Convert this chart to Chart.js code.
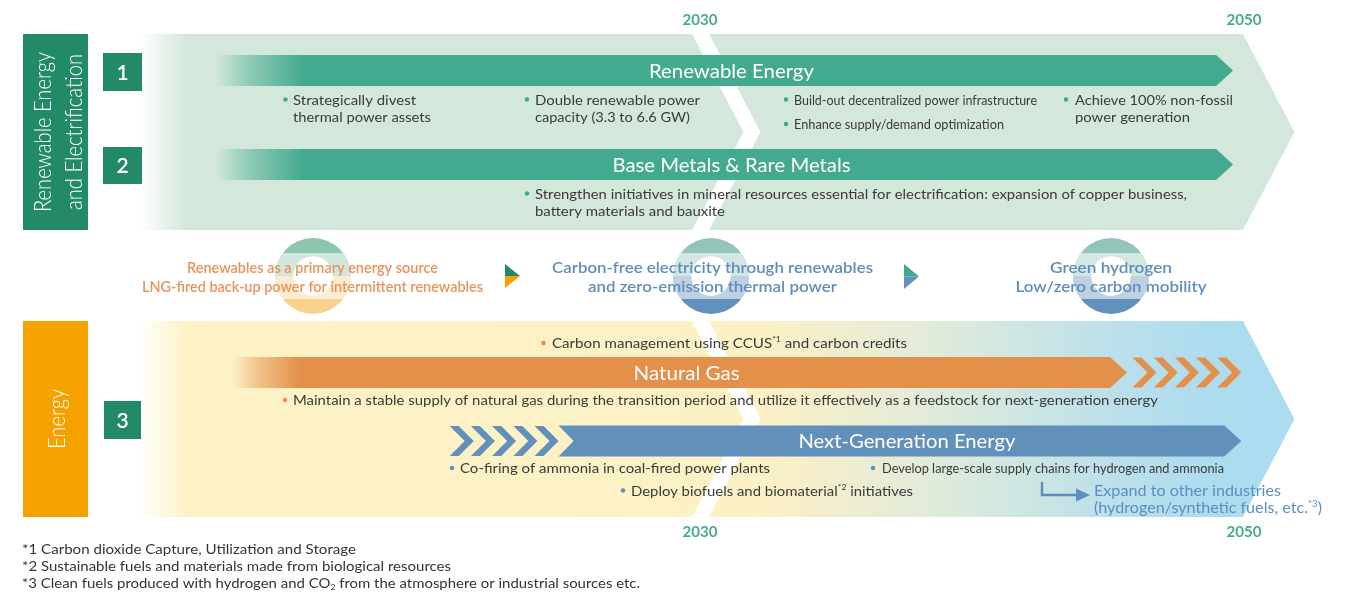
<!DOCTYPE html>
<html>
<head>
<meta charset="utf-8">
<script src="https://cdn.jsdelivr.net/npm/chart.js@4.4.1/dist/chart.umd.min.js"></script>
<style>
  html, body { margin: 0; background: #fff; }
  #wrap { position: relative; width: 1347px; height: 592px; overflow: hidden; }
  #wrap canvas { position: absolute; left: 0; }
</style>
</head>
<body>
<div id="wrap">
  <canvas id="roadmapTop" width="1347" height="320" style="top:0"></canvas>
  <canvas id="roadmapBottom" width="1347" height="272" style="top:320px"></canvas>
</div>
<script>
// ── Données ────────────────────────────────────────────────────────────────
const yearMin = 2004.265;
const yearMax = 2053.787;
const milestones = [2030, 2050];

const topRows  = ['Renewable Energy', 'Base Metals & Rare Metals'];
const topSpans = [[2012.2, 2049.6], [2012.2, 2049.6]];

const bottomRows     = ['Natural Gas', 'Next-Generation Energy'];
const bottomSpans    = [[2012.8, 2045.7], [2024.8, 2049.9]];
const bottomChevrons = [[2045.9, 2049.9], [2020.8, 2024.8]];

// ── Couleurs ───────────────────────────────────────────────────────────────
const TEAL       = '#43aa8f';
const DARK_GREEN = '#238a68';
const AMBER      = '#f5a200';
const GAS        = '#e3904a';
const BLUE       = '#6190bb';
const TEXT       = '#3a3a3a';
const YEAR       = '#48a98c';

const labelWidth = {
  'Renewable Energy': 165,
  'Base Metals & Rare Metals': 238,
  'Natural Gas': 106,
  'Next-Generation Energy': 217,
};

// ── Helpers de dessin ──────────────────────────────────────────────────────
function rgba(hex, a) {
  const n = parseInt(hex.slice(1), 16);
  return `rgba(${n >> 16},${(n >> 8) & 255},${n & 255},${a})`;
}

// texte "riche" (exposants / indices), étiré à une largeur cible
function richText(ctx, parts, x, y, width, o) {
  const size = o.size || 14, fam = o.family || 'Lato', wt = o.weight || 400;
  const main  = `${wt} ${size}px ${fam}`;
  const small = `${wt} ${Math.round(size * 0.6)}px ${fam}`;
  const segs = (typeof parts === 'string' ? [parts] : parts)
    .map(p => typeof p === 'string' ? { t: p } : Object.assign({}, p));
  let natural = 0;
  segs.forEach(s => {
    ctx.font = (s.sup || s.sub) ? small : main;
    s.w = ctx.measureText(s.t).width;
    natural += s.w;
  });
  const sx = width ? width / natural : 1;
  const total = natural * sx;
  const x0 = o.align === 'center' ? x - total / 2 : o.align === 'right' ? x - total : x;
  ctx.save();
  ctx.fillStyle = o.color || TEXT;
  ctx.textAlign = 'left';
  ctx.textBaseline = 'alphabetic';
  ctx.translate(x0, y);
  ctx.scale(sx, 1);
  let cx = 0;
  segs.forEach(s => {
    ctx.font = (s.sup || s.sub) ? small : main;
    const dy = s.sup ? -size * 0.4 : s.sub ? size * 0.2 : 0;
    ctx.fillText(s.t, cx, dy);
    cx += s.w;
  });
  ctx.restore();
}

function vText(ctx, str, baseX, cy, width, o) {
  ctx.save();
  ctx.translate(baseX, cy);
  ctx.rotate(-Math.PI / 2);
  richText(ctx, str, 0, 0, width, Object.assign({ align: 'center' }, o));
  ctx.restore();
}

function drawNotes(ctx, notes, dotColor) {
  notes.forEach(n => {
    const size = n.size || 14;
    ctx.fillStyle = n.dot || dotColor;
    ctx.beginPath();
    ctx.arc(n.bx, n.y - 5, 2.2, 0, Math.PI * 2);
    ctx.fill();
    n.lines.forEach((line, k) => {
      richText(ctx, line, n.tx, n.y + k * 17.5, n.w[k], { size, color: TEXT });
    });
  });
}

function drawArrow(ctx, x0, x1, yc, h, color, lead, fadeLen) {
  const top = yc - h / 2, bot = yc + h / 2, head = 17, notch = 15;
  ctx.beginPath();
  ctx.moveTo(x0, top);
  ctx.lineTo(x1 - head, top);
  ctx.lineTo(x1, yc);
  ctx.lineTo(x1 - head, bot);
  ctx.lineTo(x0, bot);
  if (lead === 'notch') ctx.lineTo(x0 + notch, yc);
  ctx.closePath();
  if (lead === 'fade') {
    const g = ctx.createLinearGradient(x0, 0, x0 + fadeLen, 0);
    g.addColorStop(0, rgba(color, 0));
    g.addColorStop(0.35, rgba(color, 0.45));
    g.addColorStop(1, rgba(color, 1));
    ctx.fillStyle = g;
  } else {
    ctx.fillStyle = color;
  }
  ctx.fill();
}

function drawChevrons(ctx, x0, x1, yc, h, color, n = 5) {
  const top = yc - h / 2, bot = yc + h / 2, t = 9, d = h / 2;
  const period = (x1 - x0 - t - d) / (n - 1);
  ctx.fillStyle = color;
  for (let i = 0; i < n; i++) {
    const x = x0 + i * period;
    ctx.beginPath();
    ctx.moveTo(x, top);
    ctx.lineTo(x + t, top);
    ctx.lineTo(x + t + d, yc);
    ctx.lineTo(x + t, bot);
    ctx.lineTo(x, bot);
    ctx.lineTo(x + d, yc);
    ctx.closePath();
    ctx.fill();
  }
}

function drawPanel(ctx, top, bottom, fill, xMid, xEnd) {
  const mid = (top + bottom) / 2, tip = 51.5, left = 140;
  ctx.fillStyle = fill;
  ctx.beginPath();
  ctx.moveTo(left, top);
  ctx.lineTo(xEnd, top);
  ctx.lineTo(xEnd + tip, mid);
  ctx.lineTo(xEnd, bottom);
  ctx.lineTo(left, bottom);
  ctx.closePath();
  ctx.fill();
  // chevron blanc à 2030
  ctx.fillStyle = '#fff';
  ctx.beginPath();
  ctx.moveTo(xMid - 8, top);
  ctx.lineTo(xMid + 9, top);
  ctx.lineTo(xMid + 9 + tip, mid);
  ctx.lineTo(xMid + 9, bottom);
  ctx.lineTo(xMid - 8, bottom);
  ctx.lineTo(xMid - 8 + tip, mid);
  ctx.closePath();
  ctx.fill();
}

function ring(ctx, cx, cy, topCol, botCol) {
  const R = 38, r = 20;
  ctx.save();
  ctx.beginPath();
  ctx.arc(cx, cy, R, Math.PI, Math.PI * 2);
  ctx.arc(cx, cy, r, Math.PI * 2, Math.PI, true);
  ctx.closePath();
  ctx.fillStyle = topCol;
  ctx.fill();
  ctx.beginPath();
  ctx.arc(cx, cy, R, 0, Math.PI);
  ctx.arc(cx, cy, r, Math.PI, 0, true);
  ctx.closePath();
  ctx.fillStyle = botCol;
  ctx.fill();
  // bande claire sous le texte
  ctx.beginPath();
  ctx.arc(cx, cy, R, 0, Math.PI * 2);
  ctx.arc(cx, cy, r, Math.PI * 2, 0, true);
  ctx.clip('evenodd');
  ctx.fillStyle = 'rgba(255,255,255,0.58)';
  ctx.fillRect(cx - R, cy - 23, 2 * R, 46);
  ctx.restore();
}

function splitTriangle(ctx, x, yTop, w, h, c1, c2) {
  const mid = yTop + h / 2;
  ctx.fillStyle = c1;
  ctx.beginPath(); ctx.moveTo(x, yTop); ctx.lineTo(x + w, mid); ctx.lineTo(x, mid); ctx.closePath(); ctx.fill();
  ctx.fillStyle = c2;
  ctx.beginPath(); ctx.moveTo(x, mid); ctx.lineTo(x + w, mid); ctx.lineTo(x, yTop + h); ctx.closePath(); ctx.fill();
}

function numberBox(ctx, n, x, y, w, h) {
  ctx.fillStyle = DARK_GREEN;
  ctx.fillRect(x, y, w, h);
  richText(ctx, n, x + w / 2, y + h / 2 + 7.5, 0, { size: 21, weight: 600, color: '#fff', align: 'center' });
}

// ── Annotations (textes) ───────────────────────────────────────────────────
const topNotes = [
  { lines: ['Strategically divest', 'thermal power assets'], bx: 285.5, tx: 293, y: 104.5, w: [123, 138] },
  { lines: ['Double renewable power', 'capacity (3.3 to 6.6 GW)'], bx: 527, tx: 535, y: 104.5, w: [165, 155] },
  { lines: ['Build-out decentralized power infrastructure'], bx: 786, tx: 794, y: 104.5, w: [243], size: 13 },
  { lines: ['Enhance supply/demand optimization'], bx: 786, tx: 794, y: 129, w: [210], size: 13 },
  { lines: ['Achieve 100% non-fossil', 'power generation'], bx: 1066, tx: 1075, y: 104.5, w: [158, 115] },
  { lines: ['Strengthen initiatives in mineral resources essential for electrification: expansion of copper business,',
            'battery materials and bauxite'], bx: 527, tx: 535, y: 198.5, w: [652, 190] },
];

const bottomNotes = [
  { lines: [['Carbon management using CCUS', { t: '*1', sup: true }, ' and carbon credits']], bx: 543.5, tx: 552, y: 348, w: [355], dot: '#ee8a45' },
  { lines: ['Maintain a stable supply of natural gas during the transition period and utilize it effectively as a feedstock for next-generation energy'],
    bx: 285, tx: 293, y: 405, w: [865], dot: '#ee8a45' },
  { lines: ['Co-firing of ammonia in coal-fired power plants'], bx: 452, tx: 460, y: 473, w: [310] },
  { lines: [['Deploy biofuels and biomaterial', { t: '*2', sup: true }, ' initiatives']], bx: 623, tx: 631, y: 495.5, w: [282] },
  { lines: ['Develop large-scale supply chains for hydrogen and ammonia'], bx: 873, tx: 882, y: 473, w: [342], size: 13 },
];

const stages = [
  { lines: ['Renewables as a primary energy source', 'LNG-fired back-up power for intermittent renewables'], w: [251, 341], color: '#ec9259' },
  { lines: ['Carbon-free electricity through renewables', 'and zero-emission thermal power'], w: [321, 249], color: '#5f8ebe' },
  { lines: ['Green hydrogen', 'Low/zero carbon mobility'], w: [122, 191], color: '#5f8ebe' },
];

const footnotes = [
  { parts: '*1 Carbon dioxide Capture, Utilization and Storage', w: 334 },
  { parts: '*2 Sustainable fuels and materials made from biological resources', w: 429 },
  { parts: ['*3 Clean fuels produced with hydrogen and CO', { t: '2', sub: true }, ' from the atmosphere or industrial sources etc.'], w: 618 },
];

// ── Plugins ────────────────────────────────────────────────────────────────
const arrowBars = {
  id: 'arrowBars',
  beforeDatasetDraw(chart, args) {
    const ds = chart.data.datasets[args.index];
    const ctx = chart.ctx;
    args.meta.data.forEach((el, i) => {
      const { x, y, base, height } = el.getProps(['x', 'y', 'base', 'height'], true);
      const x0 = Math.min(x, base), x1 = Math.max(x, base);
      const color = ds.backgroundColor[i];
      if (ds.shape === 'chevrons') {
        drawChevrons(ctx, x0, x1, y, height, color);
      } else {
        drawArrow(ctx, x0, x1, y, height, color, ds.lead[i], ds.fade);
        const label = chart.data.labels[i];
        richText(ctx, label, (x0 + x1) / 2 + 7, y + 7.3, labelWidth[label],
          { size: 19, color: '#fff', align: 'center' });
      }
    });
    return false;
  },
};

const roadmap = {
  id: 'roadmap',
  beforeDatasetsDraw(chart, args, opts) {
    const ctx = chart.ctx;
    const px = v => chart.scales.x.getPixelForValue(v);
    ctx.save();
    ctx.translate(0, -opts.offsetY);
    if (opts.section === 'top') {
      const g = ctx.createLinearGradient(140, 0, 186, 0);
      g.addColorStop(0, 'rgba(211,232,218,0)');
      g.addColorStop(1, '#d3e8da');
      drawPanel(ctx, 34, 230, g, px(milestones[0]), px(milestones[1]) - 1);
    } else {
      const g = ctx.createLinearGradient(140, 0, 1250, 0);
      g.addColorStop(0, 'rgba(253,242,198,0)');
      g.addColorStop(0.04, '#fdf2c6');
      g.addColorStop(0.56, '#fcf0c5');
      g.addColorStop(0.69, '#e6ecd7');
      g.addColorStop(0.78, '#d1e7e0');
      g.addColorStop(0.87, '#bde0ea');
      g.addColorStop(0.96, '#aedcef');
      g.addColorStop(1, '#acdcef');
      drawPanel(ctx, 321, 517, g, px(milestones[0]), px(milestones[1]) - 1);
    }
    ctx.restore();
  },
  afterDatasetsDraw(chart, args, opts) {
    const ctx = chart.ctx;
    const px = v => chart.scales.x.getPixelForValue(v);
    ctx.save();
    ctx.translate(0, -opts.offsetY);
    if (opts.section === 'top') {
      milestones.forEach(m => richText(ctx, String(m), px(m), 25, 35, { size: 15, weight: 700, color: YEAR, align: 'center' }));

      ctx.fillStyle = DARK_GREEN;
      ctx.fillRect(23, 34, 65, 196);
      vText(ctx, 'Renewable Energy', 51, 132, 160, { size: 23, weight: 300, color: '#fff' });
      vText(ctx, 'and Electrification', 82, 132, 156, { size: 23, weight: 300, color: '#fff' });
      numberBox(ctx, '1', 103, 53, 39, 38);
      numberBox(ctx, '2', 103, 147, 39, 37);

      drawNotes(ctx, topNotes, '#3fa98b');

      // bande de transition
      ring(ctx, 313, 276, '#8dc5ad', '#fad28d');
      ring(ctx, 711, 276, '#93c4bb', '#6391bd');
      ring(ctx, 1111, 276, '#93c4bb', '#6391bd');
      splitTriangle(ctx, 505, 264, 15, 24, DARK_GREEN, AMBER);
      splitTriangle(ctx, 904, 264, 15, 25, '#3fa98b', '#6391bd');
      const centers = [312.5, 712.5, 1111];
      stages.forEach((s, i) => {
        s.lines.forEach((line, k) => richText(ctx, line, centers[i], 273 + k * 19, s.w[k],
          { size: 16, weight: 600, color: s.color, align: 'center' }));
      });
    } else {
      ctx.fillStyle = AMBER;
      ctx.fillRect(23, 321, 65, 196);
      vText(ctx, 'Energy', 65, 419, 60, { size: 23, weight: 300, color: '#fff' });
      numberBox(ctx, '3', 104, 401, 37, 38);

      drawNotes(ctx, bottomNotes, '#5b8fc2');

      // flèche en L
      ctx.strokeStyle = '#5b8dbf';
      ctx.lineWidth = 2.5;
      ctx.beginPath();
      ctx.moveTo(1042, 482);
      ctx.lineTo(1042, 495);
      ctx.lineTo(1078, 495);
      ctx.stroke();
      ctx.fillStyle = '#5b8dbf';
      ctx.beginPath();
      ctx.moveTo(1076, 488.5);
      ctx.lineTo(1090, 495);
      ctx.lineTo(1076, 501.5);
      ctx.closePath();
      ctx.fill();
      richText(ctx, 'Expand to other industries', 1094, 495.5, 187, { size: 15, weight: 400, color: '#5b8fc4' });
      richText(ctx, ['(hydrogen/synthetic fuels, etc.', { t: '*3', sup: true }, ')'], 1094, 513, 228, { size: 15, weight: 400, color: '#5b8fc4' });

      milestones.forEach(m => richText(ctx, String(m), px(m), 537, 35, { size: 15, weight: 700, color: YEAR, align: 'center' }));

      footnotes.forEach((f, k) => richText(ctx, f.parts, 22, 553.5 + k * 17, f.w, { size: 14, weight: 400, color: '#333' }));
    }
    ctx.restore();
  },
};

function baseOptions(padTop, padBottom, roadmapOpts) {
  return {
    indexAxis: 'y',
    responsive: false,
    animation: false,
    events: [],
    layout: { padding: { left: 0, right: 0, top: padTop, bottom: padBottom } },
    scales: {
      x: { type: 'linear', min: yearMin, max: yearMax, display: false },
      y: { type: 'category', display: false, offset: true },
    },
    plugins: {
      legend: { display: false },
      tooltip: { enabled: false },
      roadmap: roadmapOpts,
    },
  };
}

// ── Graphiques ─────────────────────────────────────────────────────────────
new Chart(document.getElementById('roadmapTop'), {
  type: 'bar',
  data: {
    labels: topRows,
    datasets: [{
      label: 'Roadmap',
      data: topSpans,
      shape: 'arrow',
      lead: ['fade', 'fade'],
      fade: 88,
      backgroundColor: [TEAL, TEAL],
      barThickness: 31,
      grouped: false,
    }],
  },
  options: baseOptions(23.5, 108.5, { section: 'top', offsetY: 0 }),
  plugins: [roadmap, arrowBars],
});

new Chart(document.getElementById('roadmapBottom'), {
  type: 'bar',
  data: {
    labels: bottomRows,
    datasets: [{
      label: 'Transition',
      data: bottomChevrons,
      shape: 'chevrons',
      backgroundColor: [GAS, BLUE],
      barThickness: 30,
      grouped: false,
    }, {
      label: 'Roadmap',
      data: bottomSpans,
      shape: 'arrow',
      lead: ['fade', 'notch'],
      fade: 68,
      backgroundColor: [GAS, BLUE],
      barThickness: 31,
      grouped: false,
    }],
  },
  options: baseOptions(18.25, 116.75, { section: 'bottom', offsetY: 320 }),
  plugins: [roadmap, arrowBars],
});
</script>
</body>
</html>
